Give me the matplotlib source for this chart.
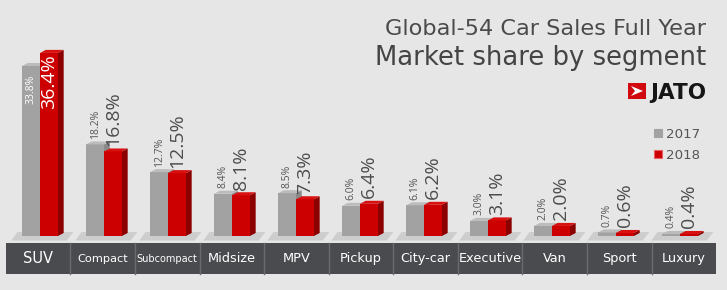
import matplotlib.pyplot as plt
from matplotlib.patches import Polygon, Rectangle

categories = ['SUV', 'Compact', 'Subcompact', 'Midsize', 'MPV', 'Pickup',
              'City-car', 'Executive', 'Van', 'Sport', 'Luxury']
share_2017 = [33.8, 18.2, 12.7, 8.4, 8.5, 6.0, 6.1, 3.0, 2.0, 0.7, 0.4]
share_2018 = [36.4, 16.8, 12.5, 8.1, 7.3, 6.4, 6.2, 3.1, 2.0, 0.6, 0.4]
years = ['2017', '2018']

W, H = 727, 290
cat_sizes = [10.5, 8.2, 7, 9.3, 9.3, 9.3, 9.3, 9.3, 9.3, 9.3, 9.3]

GRAY, GRAY_TOP = '#a2a2a2', '#bcbcbc'
RED, RED_TOP, RED_SIDE = '#cc0000', '#d81010', '#8a0000'
BG = '#e6e6e6'


def fx(px):
    return px / W


def fy(py):
    return 1 - py / H


fig = plt.figure(figsize=(W / 100, H / 100), dpi=100, facecolor=BG)

# y scale: 0 % at pixel row 236, 5.03 px per %
ylim = (-(H - 236) / 5.03, 236 / 5.03)

# category band axes (cells 64.6 px wide)
axb = fig.add_axes([0, 0, 1, 1])
axb.set_xlim(-38 / 64.6, (W - 38) / 64.6)
axb.set_ylim(*ylim)
axb.axis('off')
band_top, band_bot = -(243 - 236) / 5.03, -(274 - 236) / 5.03
axb.add_patch(Rectangle((-0.5, band_bot), len(categories), band_top - band_bot,
                        color='#4a4b4f', lw=0))
for i in range(len(categories) - 1):
    axb.plot([i + 0.5, i + 0.5], [band_bot, band_top], color='#6a6b6f', lw=1)
for i, c in enumerate(categories):
    axb.text(i, (band_top + band_bot) / 2, c, color='white', ha='center', va='center',
             fontsize=cat_sizes[i], family='DejaVu Sans')

# bar axes (pairs 64 px apart)
ax = fig.add_axes([0, 0, 1, 1])
ax.set_xlim(-40 / 64, (W - 40) / 64)
ax.set_ylim(*ylim)
ax.axis('off')

n = len(categories)
# floor shadow under each pair
for i in range(n):
    ax.add_patch(Polygon([(i - 0.45, -0.9), (i + 0.42, -0.9), (i + 0.52, 0.8), (i - 0.35, 0.8)],
                         color='#cdcdcd', lw=0))

bw = 0.28
dx, dy = 0.09, 0.6


def bar3d(xc, h, front, top, side):
    ax.bar(xc, h, bw, color=front, lw=0, zorder=3)
    l, r = xc - bw / 2, xc + bw / 2
    ax.add_patch(Polygon([(r, 0), (r + dx, dy), (r + dx, h + dy), (r, h)],
                         color=side, lw=0, zorder=2))
    ax.add_patch(Polygon([(l, h), (l + dx, h + dy), (r + dx, h + dy), (r, h)],
                         color=top, lw=0, zorder=3))


for i in range(n):
    g, r = i - 0.14, i + 0.14
    bar3d(g, share_2017[i], GRAY, GRAY_TOP, '#8a8a8a')
    bar3d(r, share_2018[i], RED, RED_TOP, RED_SIDE)

    v = share_2017[i]
    inside = v > 30
    ax.annotate(f'{v:.1f}%', (g, v), xytext=(0, -6 if inside else 4), textcoords='offset points',
                rotation=90, ha='center', va='top' if inside else 'bottom', fontsize=7.5,
                color='white' if inside else '#555555', family='Open Sans', zorder=5)
    v = share_2018[i]
    inside = v > 30
    ax.annotate(f'{v:.1f}%', (r, v), xytext=(0, -1 if inside else 4), textcoords='offset points',
                rotation=90, ha='center', va='top' if inside else 'bottom', fontsize=14,
                color='white' if inside else '#4d4d4d', family='Open Sans', zorder=5)

# titles
fig.text(fx(706), fy(35), 'Global-54 Car Sales Full Year', ha='right', va='baseline',
         fontsize=16.1, color='#4a4a4a', family='DejaVu Sans')
fig.text(fx(706), fy(65), 'Market share by segment', ha='right', va='baseline',
         fontsize=18.6, color='#444444', family='DejaVu Sans')

# JATO logo
fig.add_artist(Rectangle((fx(628), fy(99)), 18 / W, 16 / H, color='#d10a10', lw=0,
                         transform=fig.transFigure))
arrow = [(631, 86), (643, 91), (631, 96), (635, 91)]
fig.add_artist(Polygon([(fx(a), fy(b)) for a, b in arrow], color='white', lw=0,
                       transform=fig.transFigure))
fig.text(fx(706), fy(99), 'JATO', ha='right', va='baseline', fontsize=15.5,
         fontweight='bold', color='#161616', family='DejaVu Sans')

# legend
for k, (yr, col, ec) in enumerate(zip(years, [GRAY, RED], [GRAY, '#e86060'])):
    top = 129 + 21 * k
    fig.add_artist(Rectangle((fx(654), fy(top + 8)), 8 / W, 8 / H, facecolor=col,
                             edgecolor=ec, lw=0.8, transform=fig.transFigure))
    fig.text(fx(666), fy(top + 9), yr, ha='left', va='baseline', fontsize=9.6,
             color='#555555', family='DejaVu Sans')

fig.savefig('out.png', dpi=100, facecolor=BG)
